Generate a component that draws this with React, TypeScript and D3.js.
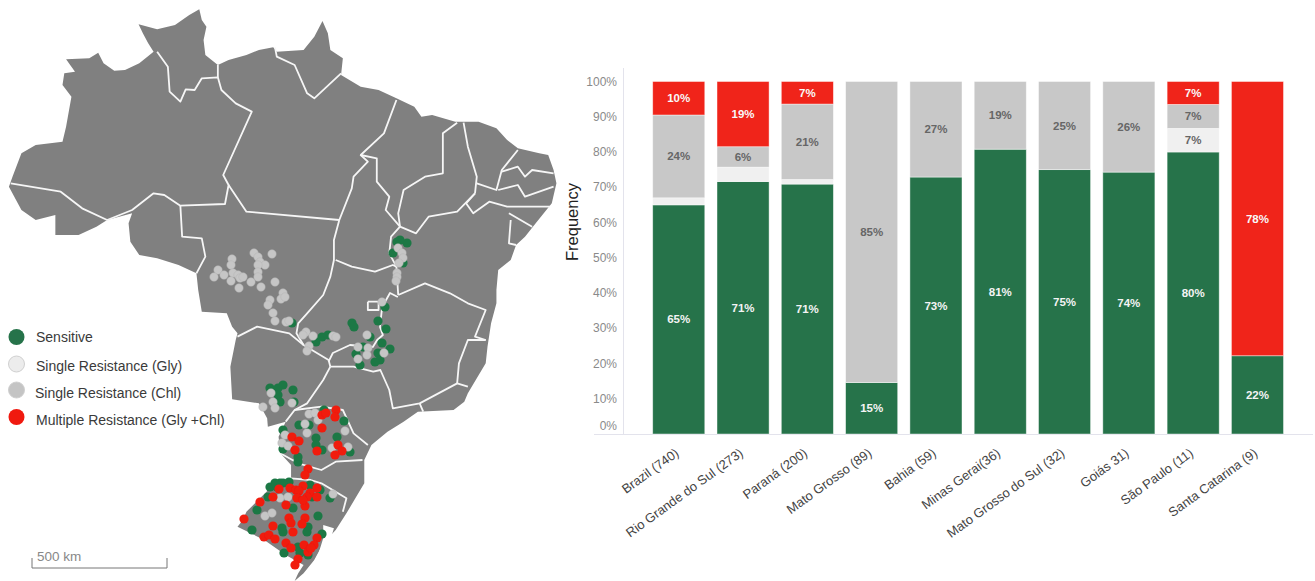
import React from "react";
import * as d3 from "d3";

const categories = ["Brazil (740)", "Rio Grande do Sul (273)", "Paraná (200)", "Mato Grosso (89)", "Bahia (59)", "Minas Gerai(36)", "Mato Grosso do Sul (32)", "Goiás 31)", "São Paulo (11)", "Santa Catarina (9)"];
const sensitive = [65, 71.6, 70.9, 14.6, 72.9, 80.8, 75, 74.3, 80, 22.2];
const singleGly = [2, 4.1, 1.3, 0, 0, 0, 0, 0, 6.7, 0];
const singleChl = [23.5, 5.8, 21.4, 85.4, 27.1, 19.2, 25, 25.7, 6.8, 0];
const multiple = [9.5, 18.5, 6.4, 0, 0, 0, 0, 0, 6.5, 77.8];
const sensitiveLabels = ["65%", "71%", "71%", "15%", "73%", "81%", "75%", "74%", "80%", "22%"];
const glyLabels = ["", "", "", "", "", "", "", "", "7%", ""];
const chlLabels = ["24%", "6%", "21%", "85%", "27%", "19%", "25%", "26%", "7%", ""];
const multipleLabels = ["10%", "19%", "7%", "", "", "", "", "", "7%", "78%"];
const yTicks = [0, 10, 20, 30, 40, 50, 60, 70, 80, 90, 100];
const legendItems = ["Sensitive", "Single Resistance (Gly)", "Single Resistance (Chl)", "Multiple Resistance (Gly +Chl)"];

type P = [number, number];
// Map outline and state borders, traced in zoomed-crop units
const brazilOutline: P[] = [[25,560],[35,530],[60,460],[100,435],[175,425],[185,380],[200,290],[175,255],[180,220],[210,215],[185,178],[250,175],[275,158],[290,190],[320,212],[350,210],[390,190],[430,155],[415,130],[400,100],[388,73],[440,88],[490,75],[530,45],[558,28],[565,60],[578,80],[570,120],[575,165],[610,195],[640,180],[690,165],[725,150],[765,142],[775,155],[850,150],[880,110],[903,63],[918,100],[925,150],[960,175],[955,225],[1010,260],[1060,270],[1110,295],[1160,320],[1180,350],[1210,345],[1275,365],[1340,365],[1390,385],[1420,420],[1450,445],[1510,460],[1535,465],[1550,510],[1558,550],[1545,610],[1500,670],[1470,710],[1445,735],[1430,780],[1395,810],[1390,870],[1390,910],[1375,970],[1365,1040],[1360,1090],[1310,1180],[1300,1205],[1270,1230],[1170,1235],[1130,1265],[1085,1295],[1040,1335],[1020,1380],[1020,1450],[995,1495],[970,1540],[940,1590],[905,1630],[880,1680],[850,1720],[825,1743],[835,1720],[850,1695],[800,1665],[740,1620],[665,1580],[680,1560],[690,1535],[770,1450],[815,1435],[815,1395],[785,1360],[780,1310],[800,1265],[750,1280],[748,1255],[725,1210],[650,1198],[645,1100],[660,1020],[665,1000],[650,980],[635,940],[565,935],[555,870],[550,820],[500,795],[440,775],[390,765],[365,725],[360,670],[370,640],[300,660],[270,680],[220,705],[155,705],[155,645],[100,660],[60,630],[40,590]];
const stateBorders: P[][] = [
  [[30,550],[170,575],[230,625],[300,660],[370,630],[430,580],[460,585],[505,617],[630,612],[640,555],[625,525],[705,335],[660,310],[620,270],[610,232],[565,235],[545,270],[520,268],[505,305],[475,275],[470,200],[440,155]],
  [[610,232],[610,195]],
  [[505,617],[510,710],[565,715],[575,770],[550,820]],
  [[640,555],[690,635],[950,660]],
  [[770,142],[775,170],[825,195],[860,280],[880,295],[910,265],[955,220]],
  [[950,660],[985,565],[990,530],[1030,485],[1010,465],[1075,400],[1110,300]],
  [[1010,465],[1055,475],[1055,545],[1090,590],[1080,630],[1120,680]],
  [[1280,368],[1240,400],[1240,520],[1190,530],[1130,570],[1115,640],[1120,680]],
  [[1120,680],[1095,710],[1090,760],[1110,800],[1115,885]],
  [[1120,680],[1165,700],[1200,650],[1280,635],[1330,580]],
  [[1298,368],[1310,440],[1335,530],[1330,580]],
  [[1335,550],[1390,570],[1405,510],[1420,490],[1450,450]],
  [[1405,515],[1450,500],[1470,530],[1490,510],[1550,520]],
  [[1395,570],[1450,555],[1470,590],[1550,560]],
  [[1330,580],[1305,610],[1325,640],[1370,605],[1420,620],[1540,620]],
  [[1425,640],[1490,680]],
  [[1430,660],[1425,730],[1445,735]],
  [[950,660],[935,720],[935,780],[925,830],[905,885],[860,940],[835,970],[830,1000],[850,1035]],
  [[665,1010],[720,980],[810,1000],[850,1035],[920,1080],[925,1100]],
  [[940,780],[985,800],[1050,815],[1100,795],[1110,800]],
  [[1114,891],[1092,879],[1070,921],[1064,981],[1072,1005],[1056,1020],[1044,1041],[980,1035],[932,1059],[920,1085]],
  [[925,1100],[905,1140],[860,1210],[825,1230]],
  [[925,1100],[990,1100],[1045,1115],[1065,1110],[1090,1170],[1100,1225],[1175,1210],[1280,1150]],
  [[1175,1210],[1185,1235]],
  [[1280,1150],[1310,1160]],
  [[1280,1150],[1285,1090],[1310,1020],[1360,1020]],
  [[1115,885],[1190,850],[1260,880],[1310,910],[1360,930],[1330,1010],[1360,1020]],
  [[800,1265],[825,1230],[900,1220],[960,1230],[990,1300],[1030,1335]],
  [[785,1360],[835,1390],[900,1410],[940,1385],[1015,1380]],
  [[815,1435],[870,1440],[900,1450],[970,1495],[960,1535]],
  [[1030,905],[1060,905],[1060,930],[1030,930],[1030,905]],
];
const lagoon: P[] = [[905,1575],[935,1585],[925,1620],[905,1640],[880,1685],[870,1700],[892,1660],[905,1615]];

// Sampling sites
const sitesSensitive: P[] = [[292,323],[397,242],[407,243],[393,253],[403,263],[400,240],[316,342],[322,337],[328,335],[352,323],[354,327],[378,321],[386,329],[382,343],[390,349],[370,337],[356,354],[378,353],[380,360],[375,362],[360,365],[363,347],[385,307],[270,388],[283,385],[278,388],[293,390],[278,395],[280,402],[294,402],[324,410],[344,421],[299,425],[283,430],[316,438],[316,445],[337,437],[350,452],[322,450],[298,457],[298,462],[283,449],[309,425],[280,483],[270,487],[257,510],[252,530],[318,516],[330,498],[282,528],[283,532],[293,508],[308,527],[307,532],[322,534],[284,553],[298,547],[312,497],[300,553],[308,555],[277,487],[268,497],[289,482],[275,483],[283,483],[310,485],[320,490]];
const sitesResistantChl: P[] = [[254,253],[272,254],[232,259],[258,257],[231,265],[260,262],[265,265],[258,265],[218,270],[258,272],[233,273],[224,275],[214,277],[238,275],[240,278],[243,277],[231,281],[258,277],[251,282],[275,282],[239,288],[261,287],[283,293],[281,299],[285,297],[270,300],[268,305],[273,313],[275,321],[286,322],[289,321],[398,248],[402,253],[403,258],[399,263],[397,273],[397,277],[396,281],[306,332],[303,335],[313,336],[309,346],[307,351],[333,336],[336,337],[367,335],[358,347],[368,348],[367,355],[358,359],[384,353],[382,302],[271,393],[273,402],[292,403],[263,407],[275,408],[309,414],[315,413],[305,424],[307,433],[285,435],[282,443],[288,446],[345,431],[332,448],[348,447],[318,420],[265,516],[272,513],[280,498],[288,497],[333,494]];
const sitesMultiple: P[] = [[322,415],[326,413],[336,410],[335,417],[322,428],[292,437],[299,441],[295,450],[317,451],[338,445],[342,451],[335,455],[308,469],[305,475],[279,489],[273,497],[260,502],[290,488],[296,490],[303,486],[299,491],[317,488],[310,493],[307,497],[297,498],[317,497],[286,505],[305,506],[303,500],[244,519],[289,518],[291,523],[305,518],[302,524],[273,526],[293,532],[264,537],[269,535],[275,539],[317,538],[286,543],[291,548],[304,545],[308,552],[314,545],[311,548],[298,559],[295,565]];

const COLORS = { sens: "#26734a", gly: "#f0f0f0", chl: "#c8c8c8", multi: "#f0241a" };
const DARK = "#666";
const FONT = "'Liberation Sans', Arial, sans-serif";

export default function App() {
  const W = 1315, H = 581;
  const y = d3.scaleLinear().domain([0, 100]).range([434, 81.5]);
  const x = d3.scaleBand<string>().domain(categories).range([652.7, 1283.5]).paddingInner(0.19).paddingOuter(0);
  const tx = d3.scaleLinear().domain([0, 2.8]).range([0, 1]);
  const ty = d3.scaleLinear().domain([0, 3]).range([0, 1]);
  const traced = d3.line<P>().x((d) => tx(d[0])).y((d) => ty(d[1])).curve(d3.curveLinear);

  const stack = [
    { key: "sens", values: sensitive, labels: sensitiveLabels, color: COLORS.sens, text: "#f4f4f4" },
    { key: "gly", values: singleGly, labels: glyLabels, color: COLORS.gly, text: DARK },
    { key: "chl", values: singleChl, labels: chlLabels, color: COLORS.chl, text: DARK },
    { key: "multi", values: multiple, labels: multipleLabels, color: COLORS.multi, text: "#f8f8f8" },
  ];

  const legendColors = [COLORS.sens, "#ececec", "#c4c4c4", "#f0190f"];
  const legendCircleY = [337, 364, 390, 417];
  const legendTextY = [342, 371, 398, 425];
  const legendTextX = [36, 36, 35, 36];

  return (
    <svg width={W} height={H} viewBox={`0 0 ${W} ${H}`} style={{ position: "absolute", left: 0, top: 0, fontFamily: FONT }}>
      <defs>
        <filter id="soft" x="-5%" y="-5%" width="110%" height="110%">
          <feGaussianBlur stdDeviation="0.5" />
        </filter>
      </defs>
      <rect width={W} height={H} fill="#fff" />

      {/* Map */}
      <g filter="url(#soft)">
        <path d={traced(brazilOutline) + "Z"} fill="#808080" />
        <path d={traced(lagoon) + "Z"} fill="#fff" />
        {stateBorders.map((b, i) => (
          <path key={i} d={traced(b) || ""} fill="none" stroke="#f6f6f6" strokeWidth={1.8} strokeLinejoin="round" />
        ))}
        {sitesSensitive.map((p, i) => <circle key={i} cx={p[0]} cy={p[1]} r={4.6} fill="#1d7845" />)}
        {sitesResistantChl.map((p, i) => <circle key={i} cx={p[0]} cy={p[1]} r={4.2} fill="#c6c6c6" stroke="#b4b4b4" strokeWidth={0.5} />)}
        {sitesMultiple.map((p, i) => <circle key={i} cx={p[0]} cy={p[1]} r={4.6} fill="#f01a10" />)}
      </g>

      {/* Legend */}
      {legendItems.map((t, i) => (
        <g key={t}>
          <circle cx={16.5} cy={legendCircleY[i]} r={8} fill={legendColors[i]} stroke={i === 1 || i === 2 ? "#d0d0d0" : "none"} />
          <text x={legendTextX[i]} y={legendTextY[i]} fontSize={14} fill="#3a3a3a">{t}</text>
        </g>
      ))}

      {/* Scale bar */}
      <path d="M32,558V568H167V558" fill="none" stroke="#777" strokeWidth={1} />
      <text x={37} y={561} fontSize={13.5} fill="#888">500 km</text>

      {/* Axes */}
      <path d={`M623.5,68V${y(0)}`} stroke="#e3e3ec" fill="none" />
      <path d={`M594,${y(0) + 0.5}H1313`} stroke="#e3e3ec" fill="none" />
      {yTicks.map((t) => (
        <text key={t} x={617} y={(t === 0 ? y(0) - 8 : y(t)) + 4} textAnchor="end" fontSize={12} fill="#8a8a8a">{t}%</text>
      ))}
      <text transform="translate(578,222) rotate(-90)" textAnchor="middle" fontSize={16.5} fill="#222">Frequency</text>

      {/* Bars */}
      {categories.map((c, i) => {
        let acc = 0;
        return (
          <g key={c}>
            {stack.map((s) => {
              const v = s.values[i];
              const y0 = y(acc), y1 = y(acc + v);
              acc += v;
              if (v <= 0) return null;
              return (
                <g key={s.key}>
                  <rect x={x(c)} y={y1} width={x.bandwidth()} height={y0 - y1} fill={s.color} stroke="#fff" strokeOpacity={0.55} strokeWidth={0.8} />
                  {s.labels[i] && (
                    <text x={x(c)! + x.bandwidth() / 2} y={(y0 + y1) / 2 + 4} textAnchor="middle" fontSize={11.5} fontWeight="bold" fill={s.text}>{s.labels[i]}</text>
                  )}
                </g>
              );
            })}
            <text transform={`translate(${x(c)! + x.bandwidth() / 2 + 1},455) rotate(-36)`} textAnchor="end" fontSize={13} fill="#444">{c}</text>
          </g>
        );
      })}
    </svg>
  );
}
